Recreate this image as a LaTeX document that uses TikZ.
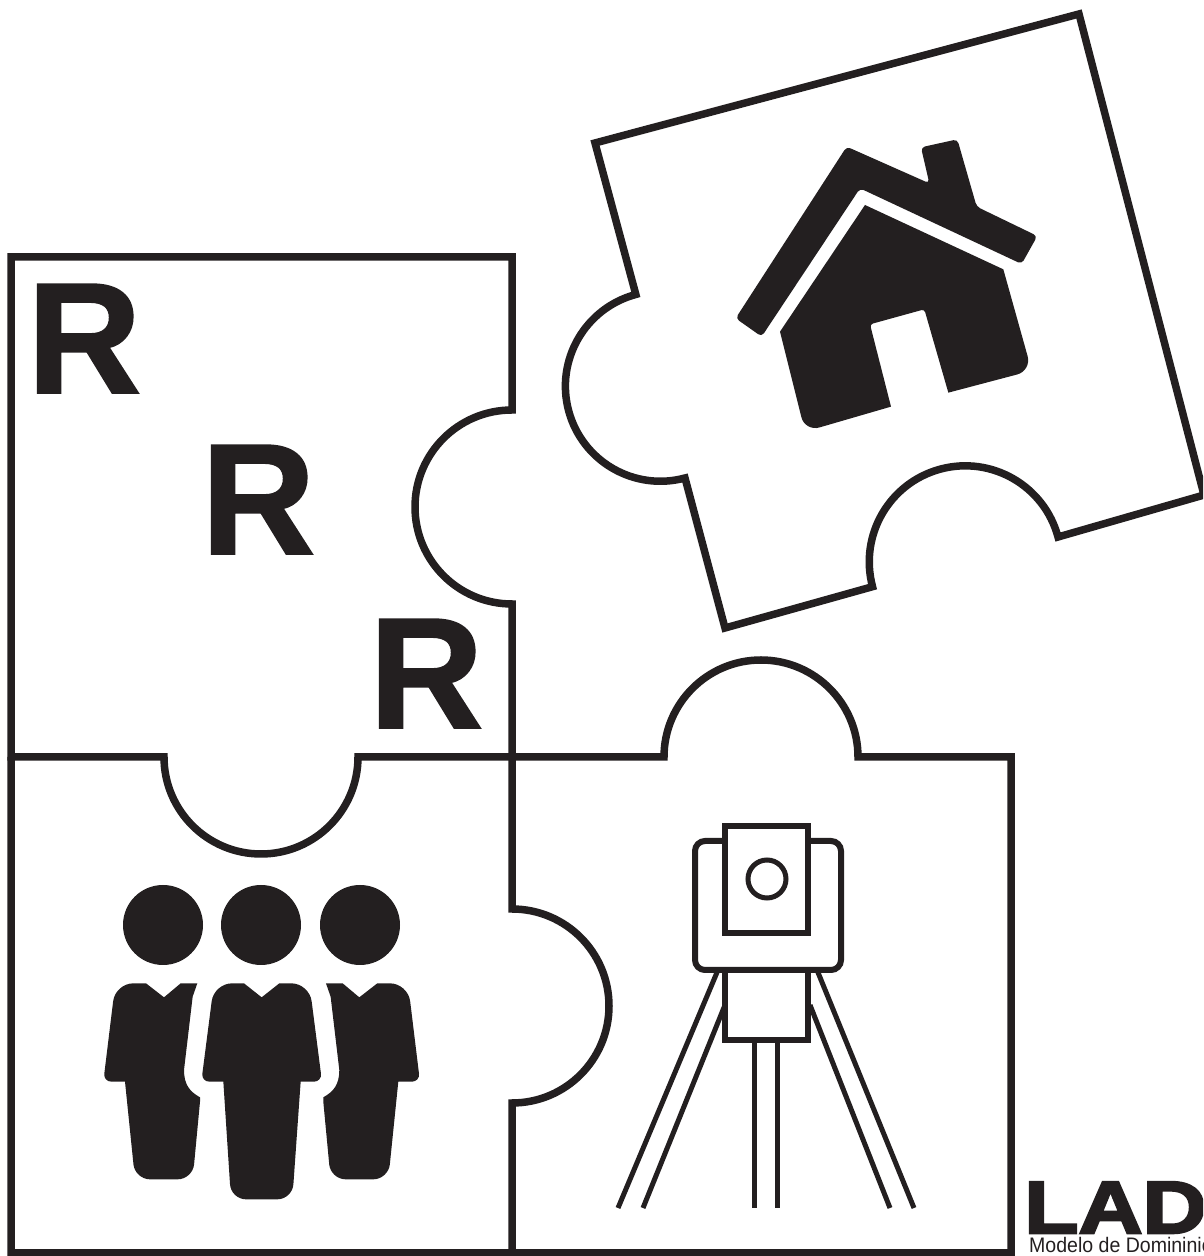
\documentclass[tikz,border=0pt]{standalone}
\usepackage{tikz}
\usepackage{xcolor}
\usepackage{fontspec}
\setmainfont{Liberation Sans}[BoldFeatures={FakeBold=1.2}]
\newfontfamily\logofont{Liberation Sans}[BoldFeatures={FakeStretch=1.2,FakeBold=3.5}]
\newfontfamily\logosubfont[FakeStretch=0.93]{Liberation Sans}
\definecolor{inkblack}{HTML}{231F20}
\tikzset{
	tileline/.style={draw=inkblack,line width=7.5pt,miter limit=3},
	iconfill/.style={fill=inkblack},
	stationline/.style={draw=inkblack,line width=6pt},
	legline/.style={draw=inkblack,line width=5pt},
	bigletter/.style={anchor=base west,inner sep=0pt,text=inkblack,font=\fontsize{158}{158}\selectfont\bfseries},
	zoomup/.style={xscale=1/3,yscale=-1/3},
}

\begin{document}
\begin{tikzpicture}[x=1pt,y=1pt]
	\useasboundingbox (0,0) rectangle (1203,1256);
	\clip (0,0) rectangle (1203,1256);

	% four tiles
	\draw[tileline] (11,999) -- (512,999) -- (512,846) arc[start angle=90,end angle=270,radius=97] -- (512,499) -- (358,499)
		arc[start angle=0,end angle=-180,radius=97] -- (11,499) -- cycle;
	\draw[tileline] (11,499) -- (11,3) -- (512,3) -- (512,153) arc[start angle=-90,end angle=90,radius=97] -- (512,499);
	\draw[tileline] (512,499) -- (664,499) arc[start angle=180,end angle=0,radius=97] -- (1011,499) -- (1011,3) -- (512,3);
	\draw[tileline] (595,1113) -- (1079,1242) -- (1204,761) -- (1058,719) arc[start angle=15,end angle=195,radius=96]
		-- (725,628) -- (685,778) arc[start angle=285,end angle=105,radius=95] -- cycle;

	% letters
	\node[bigletter] (letterone) at (27,863) {R};
	\node[bigletter] (lettertwo) at (201,702) {R};
	\node[bigletter] (letterthree) at (369,528) {R};

	% house
	\begin{scope}[shift={(720,1126)},zoomup]
		\fill[iconfill,rounded corners=4pt] (47,565) -- (380,50) -- (628,160) -- (603,52) -- (712,28)
			-- (770,230) -- (952,318) -- (905,402) -- (420,175) -- (125,620) -- cycle;
		\fill[iconfill] (180,605) -- (435,225) -- (850,418) [rounded corners=15pt] -- (935,722) [sharp corners] -- (685,788)
			[rounded corners=3pt] -- (613,538) -- (450,583) [sharp corners] -- (513,830) [rounded corners=15pt] -- (255,905) [sharp corners] -- cycle;
	\end{scope}

	% people
	\fill[iconfill] (163,331) circle[radius=40];
	\fill[iconfill] (261,331) circle[radius=40];
	\fill[iconfill] (360,331) circle[radius=40];
	\begin{scope}[shift={(90,296)},zoomup]
		\fill[iconfill,rounded corners=18pt] (372,70) [sharp corners] -- (462,70) -- (515,112) -- (568,70) [rounded corners=18pt] -- (658,70) [rounded corners=8pt] -- (696,365) [sharp corners] -- (632,365)
			[rounded corners=15pt] -- (607,718) -- (423,718) [sharp corners] -- (400,365) [rounded corners=8pt] -- (334,365) [rounded corners=18pt] -- cycle;
		\fill[iconfill,rounded corners=18pt] (76,70) [sharp corners] -- (168,70) -- (222,112) -- (272,70) -- (322,70) -- (308,110) -- (282,330)
			.. controls (282,375) and (300,395) .. (330,412) -- (330,425) [rounded corners=15pt] -- (308,658) -- (135,658) [sharp corners] -- (105,365) [rounded corners=8pt] -- (40,365) [rounded corners=18pt] -- cycle;
	\end{scope}
	\begin{scope}[shift={(433.3,296)},xscale=-1/3,yscale=-1/3]
		\fill[iconfill,rounded corners=18pt] (76,70) [sharp corners] -- (168,70) -- (222,112) -- (272,70) -- (322,70) -- (308,110) -- (282,330)
			.. controls (282,375) and (300,395) .. (330,412) -- (330,425) [rounded corners=15pt] -- (308,658) -- (135,658) [sharp corners] -- (105,365) [rounded corners=8pt] -- (40,365) [rounded corners=18pt] -- cycle;
	\end{scope}

	% survey station
	\draw[legline] (718,286) -- (618,48);
	\draw[legline] (725,251) -- (643,48);
	\draw[legline] (817,286) -- (914,48);
	\draw[legline] (810,251) -- (890,48);
	\draw[legline] (754,216) -- (754,48);
	\draw[legline] (777,216) -- (777,48);
	\draw[stationline,rounded corners=10pt,fill=white] (695,415) rectangle (841,286);
	\draw[stationline,fill=white] (725,286) rectangle (808,216);
	\draw[stationline,fill=white] (725,430) rectangle (808,323);
	\draw[legline] (767,377) circle[radius=19];

	% logo
	\node[anchor=base west,inner sep=0pt,text=inkblack,font=\logofont\bfseries\fontsize{74}{74}\selectfont] (logoname) at (1024,23) {LADM};
	\node[anchor=base west,inner sep=0pt,text=inkblack,font=\logosubfont\fontsize{21}{21}\selectfont] (logosub) at (1029,3) {Modelo de Domininio};
\end{tikzpicture}
\end{document}
